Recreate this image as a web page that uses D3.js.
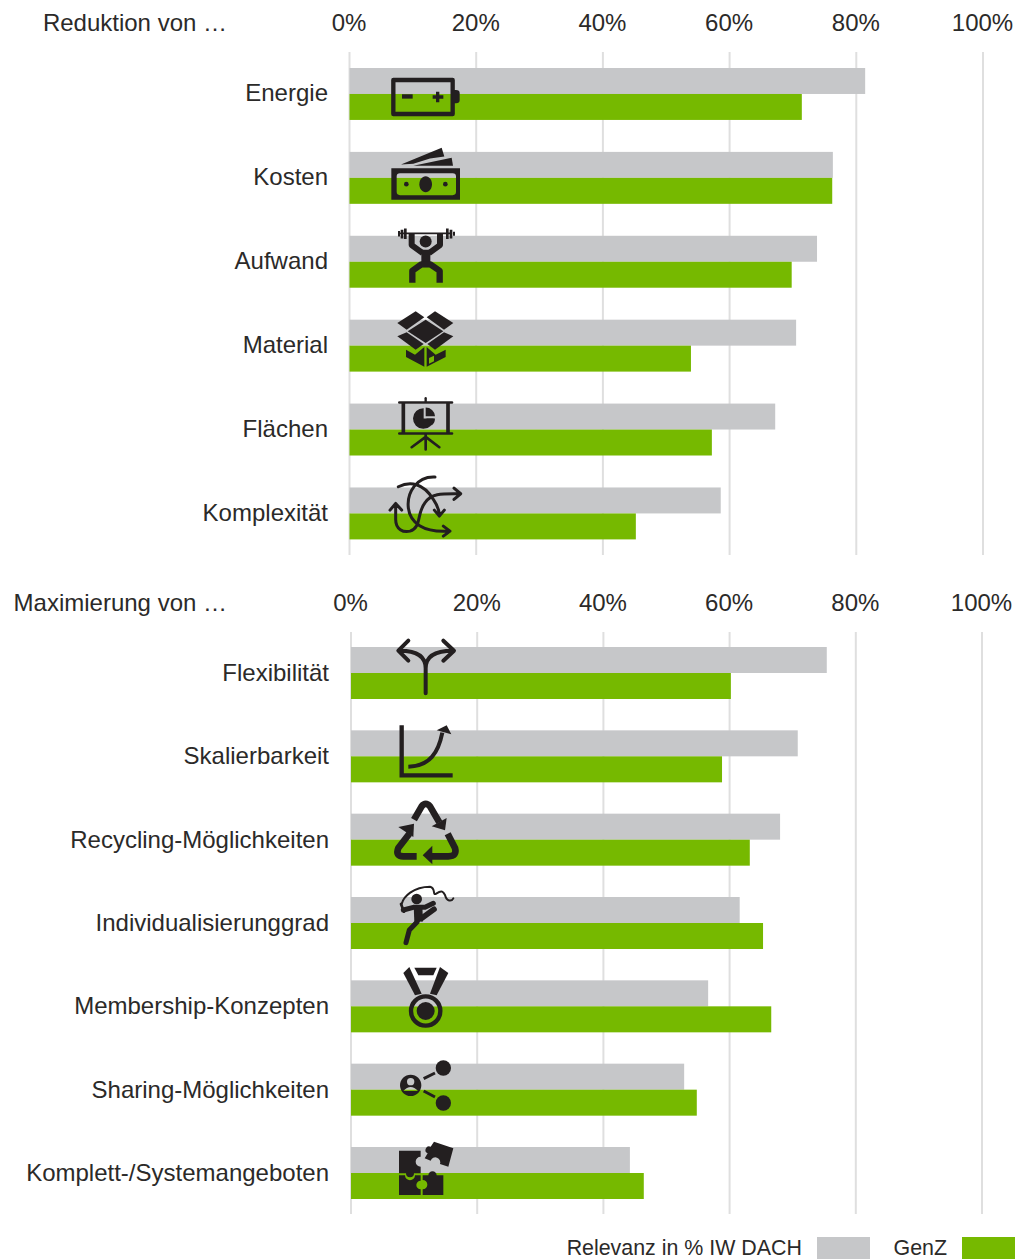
<!DOCTYPE html>
<html><head><meta charset="utf-8">
<script src="https://cdnjs.cloudflare.com/ajax/libs/d3/7.8.5/d3.min.js"></script>
<style>html,body{margin:0;padding:0;background:#fff}svg{display:block}text{font-family:"Liberation Sans",Arial,sans-serif;fill:#2b2a29}</style>
</head><body><svg id="c" width="1021" height="1259"></svg>
<script>
const ticks=[0,20,40,60,80,100];
const catsA=["Energie","Kosten","Aufwand","Material","Flächen","Komplexität"];
const iwA=[81.4,76.3,73.8,70.5,67.2,58.6];
const genzA=[71.4,76.2,69.8,53.9,57.2,45.2];
const catsB=["Flexibilität","Skalierbarkeit","Recycling-Möglichkeiten","Individualisierunggrad","Membership-Konzepten","Sharing-Möglichkeiten","Komplett-/Systemangeboten"];
const iwB=[75.4,70.8,68.0,61.6,56.6,52.8,44.2];
const genzB=[60.2,58.8,63.2,65.3,66.6,54.8,46.4];
const seriesNames=["Relevanz in % IW DACH","GenZ"];
const GRAY="#c6c7c9",GREEN="#76b900",DARK="#231f20",GRID="#dfdfdf";

// icon drawings, in a local 3x grid
const F=(d,extra)=>Object.assign({d,fill:DARK},extra||{});
const S=(d,w,extra)=>Object.assign({d,fill:"none",stroke:DARK,"stroke-width":w,"stroke-linecap":"round","stroke-linejoin":"round"},extra||{});
const C=(cx,cy,r)=>`M${cx-r} ${cy}a${r} ${r} 0 1 0 ${2*r} 0a${r} ${r} 0 1 0 ${-2*r} 0Z`;
const icons={
 "Energie":{o:102,p:[S("M40 60H218V162H40Z",13),F("M218 90h10q11 0 11 10v20q0 10-11 10h-10Z"),F("M66 103h32v13H66Z"),F("M158 106h10V95h10v11h12v10h-12v11h-10v-11h-10Z")]},
 "Kosten":{o:354,p:[F("M34 325H240V420H34ZM60 340Q50 340 50 350V396Q50 406 60 406H218Q228 406 228 396V350Q228 340 218 340Z",{"fill-rule":"evenodd"}),
   F("M137 349c-11 0-19 11-19 24s8 24 19 24 19-11 19-24-8-24-19-24Z"),F(C(79,373,7)),F(C(196,373,7)),F("M63 314L185 264L193 290L150 296L100 312Z"),F("M100 318L215 294L219 318Z")]},
 "Aufwand":{o:606,p:[S("M62 521H214",5),F("M62 510h8v26h-8ZM72 506h8v32h-8ZM54 514h6v16h-6Z"),F("M198 506h8v32h-8ZM209 510h8v26h-8ZM219 516h6v12h-6Z"),
   F(C(137,545,18)),S("M95 522V556L128 580",18,{"stroke-linecap":"butt"}),S("M180 522V556L147 580",18,{"stroke-linecap":"butt"}),F("M124 570H151V622H124Z"),
   S("M97 669V633L124 614H151L179 633V669",19,{"stroke-linecap":"butt"})]},
 "Material":{o:138,p:[F("M52 70L107 35L133 53L80 90Z"),F("M140 53L165 35L220 70L192 90Z"),F("M83 95L137 60L190 95L137 130Z"),F("M52 110L80 98L131 133L107 150Z"),F("M192 98L220 110L165 150L142 133Z"),
   F("M78 150L105 165L133 142V201L78 172Z"),F("M140 142L167 165L197 150V172L140 201ZM147 175V192L162 185V168Z",{"fill-rule":"evenodd"})]},
 "Flächen":{o:390,p:[S("M58 309H216M58 402H216",8),S("M70 309V402M204 309V402",11,{"stroke-linecap":"butt"}),S("M137 296V305",7),S("M137 405V450M137 412L95 443M137 412L178 443",8),
   F("M131 357V326A31 31 0 1 0 161 357Z"),F("M137 350V324A28 28 0 0 1 165 350Z"),F("M139 357H165A28 28 0 0 1 155 378Z")]},
 "Komplexität":{o:642,p:[S("M55 562C90 545 130 550 160 600C175 622 178 632 178 648M163 632L178 650L193 632",9),
   S("M165 533C110 530 80 580 85 625C90 670 130 700 207 695M190 680L210 695L190 710",9),
   S("M47 615V660C47 690 70 700 90 695C125 685 110 640 135 610C155 580 190 583 240 583M222 566L242 583L222 600M30 632L47 612L65 632",9)]},
 "Flexibilität":{o:129,p:[S("M137 190V115C137 80 110 62 60 62M137 115C137 80 165 62 218 62M85 32L55 62L85 92M190 32L222 62L190 92",12)]},
 "Skalierbarkeit":{o:381,p:[S("M65 288V438H218",13,{"stroke-linecap":"butt","stroke-linejoin":"miter"}),S("M85 412C150 410 175 370 187 310",12,{"stroke-linecap":"butt"}),F("M170 303L200 288L214 315Z")]},
 "Recycling-Möglichkeiten":{o:630,p:[S("M102 570L125 530Q137 515 150 530L178 578",20,{"stroke-linecap":"butt"}),F("M155 590L200 565L195 602Z"),
   S("M88 612L55 655Q45 680 70 680H110",20,{"stroke-linecap":"butt"}),F("M55 592L102 582L100 622Z"),
   S("M203 612L225 655Q232 680 205 680H150",20,{"stroke-linecap":"butt"}),F("M128 677L157 648V704Z")]},
 "Individualisierunggrad":{o:129,p:[F(C(110,57,16)),S("M65 72C70 50 100 20 150 20C170 25 155 50 170 40C185 30 190 35 195 45C200 65 215 65 220 55",6),S("M63 72L72 95",8),
   S("M70 90L100 82L135 82L160 70",15),S("M114 78L116 125",26,{"stroke-linecap":"butt"}),S("M112 125L88 150L78 188",15),S("M125 115L162 88",17)]},
 "Membership-Konzepten":{o:378,p:[F("M70 278L88 260L125 340L105 345Z"),F("M205 278L180 260L150 340L170 345Z"),F("M103 262H170L160 285H115Z"),
   S(C(137,392,44),13),F(C(137,392,27))]},
 "Sharing-Möglichkeiten":{o:630,p:[F(C(190,565,23)),F(C(190,670,23)),F(C(92,617,32)+C(92,606,11)+"M70 634Q92 610 114 634Z",{"fill-rule":"evenodd"}),S("M131 597L165 580M131 634L165 652",9,{"stroke-linecap":"butt"})]},
 "Komplett-/Systemangeboten":{o:879,p:[F("M57 812H122V830A15 15 0 0 0 122 860V880H102A12 12 0 1 1 78 880H57Z"),
   F("M57 886H75A15 15 0 1 0 105 886H122V902A13 13 0 1 0 122 928V945H57Z"),
   F("M128 945V928A14 14 0 1 0 128 900V886H145A12 12 0 1 1 170 886H190V945Z"),
   F("M162 785L220 805L205 860L180 852A12 12 0 1 0 152 842L134 835L143 820A10 10 0 1 1 152 800Z")]}
};

const svg=d3.select("#c");

function panel(cats,iw,genz,opt){
  const x=d3.scaleLinear().domain([0,100]).range(opt.x);
  const y=d3.scaleBand().domain(cats).range(opt.y).paddingInner(opt.pad).paddingOuter(0);
  const sub=d3.scaleBand().domain(seriesNames).range([0,y.bandwidth()]);
  const g=svg.append("g");
  g.append("g").selectAll("line").data(ticks).join("line")
    .attr("x1",x).attr("x2",x).attr("y1",opt.grid[0]).attr("y2",opt.grid[1]).attr("stroke",GRID).attr("stroke-width",2);
  const ax=g.append("g").attr("transform",`translate(${opt.axisDx},${opt.axisY})`)
    .call(d3.axisTop(x).tickValues(ticks).tickSize(0).tickPadding(0).tickFormat(d=>d+"%"));
  ax.select(".domain").remove();
  ax.selectAll("text").style("font-family",'"Liberation Sans",Arial,sans-serif').style("font-size","24px").attr("dy",0).attr("fill","#2b2a29");
  g.append("text").attr("x",opt.titleX).attr("y",opt.axisY).attr("text-anchor","end").style("font-size","24px").text(opt.title);
  const rows=cats.map((c,i)=>({c,a:iw[i],b:genz[i]}));
  g.append("g").selectAll("rect").data(rows).join("rect")
    .attr("x",x(0)).attr("y",d=>y(d.c)+sub(seriesNames[0])).attr("height",sub.bandwidth()).attr("width",d=>x(d.a)-x(0)).attr("fill",GRAY);
  g.append("g").selectAll("rect").data(rows).join("rect")
    .attr("x",x(0)).attr("y",d=>y(d.c)+sub(seriesNames[1])).attr("height",sub.bandwidth()).attr("width",d=>x(d.b)-x(0)).attr("fill",GREEN);
  g.append("g").selectAll("text").data(cats).join("text")
    .attr("x",opt.labelX).attr("y",d=>y(d)+y.bandwidth()/2+opt.labelDy).attr("text-anchor","end").style("font-size","24px").text(d=>d);
  const ig=g.append("g").selectAll("g").data(cats).join("g")
    .attr("transform",d=>`translate(380,${y(d)+y.bandwidth()/2-icons[d].o/3}) scale(${1/3})`);
  ig.each(function(d){
    const n=d3.select(this);
    icons[d].p.forEach(p=>{const e=n.append("path");Object.entries(p).forEach(([k,v])=>e.attr(k,v));});
  });
}
panel(catsA,iwA,genzA,{x:[349.5,983],y:[68,539.4],pad:32/84,grid:[52,555],axisY:31,axisDx:-1,title:"Reduktion von …",titleX:227,labelX:328,labelDy:7.5});
panel(catsB,iwB,genzB,{x:[351,982],y:[647,1199],pad:31.33/83.33,grid:[632,1214],axisY:611,axisDx:-1,title:"Maximierung von …",titleX:227,labelX:329,labelDy:8});

// legend
const lx=d3.scaleOrdinal().domain(seriesNames).range([817,962]);
const lg=svg.append("g");
lg.selectAll("rect").data(seriesNames).join("rect").attr("x",d=>lx(d)).attr("y",1237).attr("width",53).attr("height",22).attr("fill",(d,i)=>i?GREEN:GRAY);
lg.selectAll("text").data(seriesNames).join("text").attr("x",d=>lx(d)-15).attr("y",1255).attr("text-anchor","end").style("font-size","21.4px").text(d=>d);
</script></body></html>
